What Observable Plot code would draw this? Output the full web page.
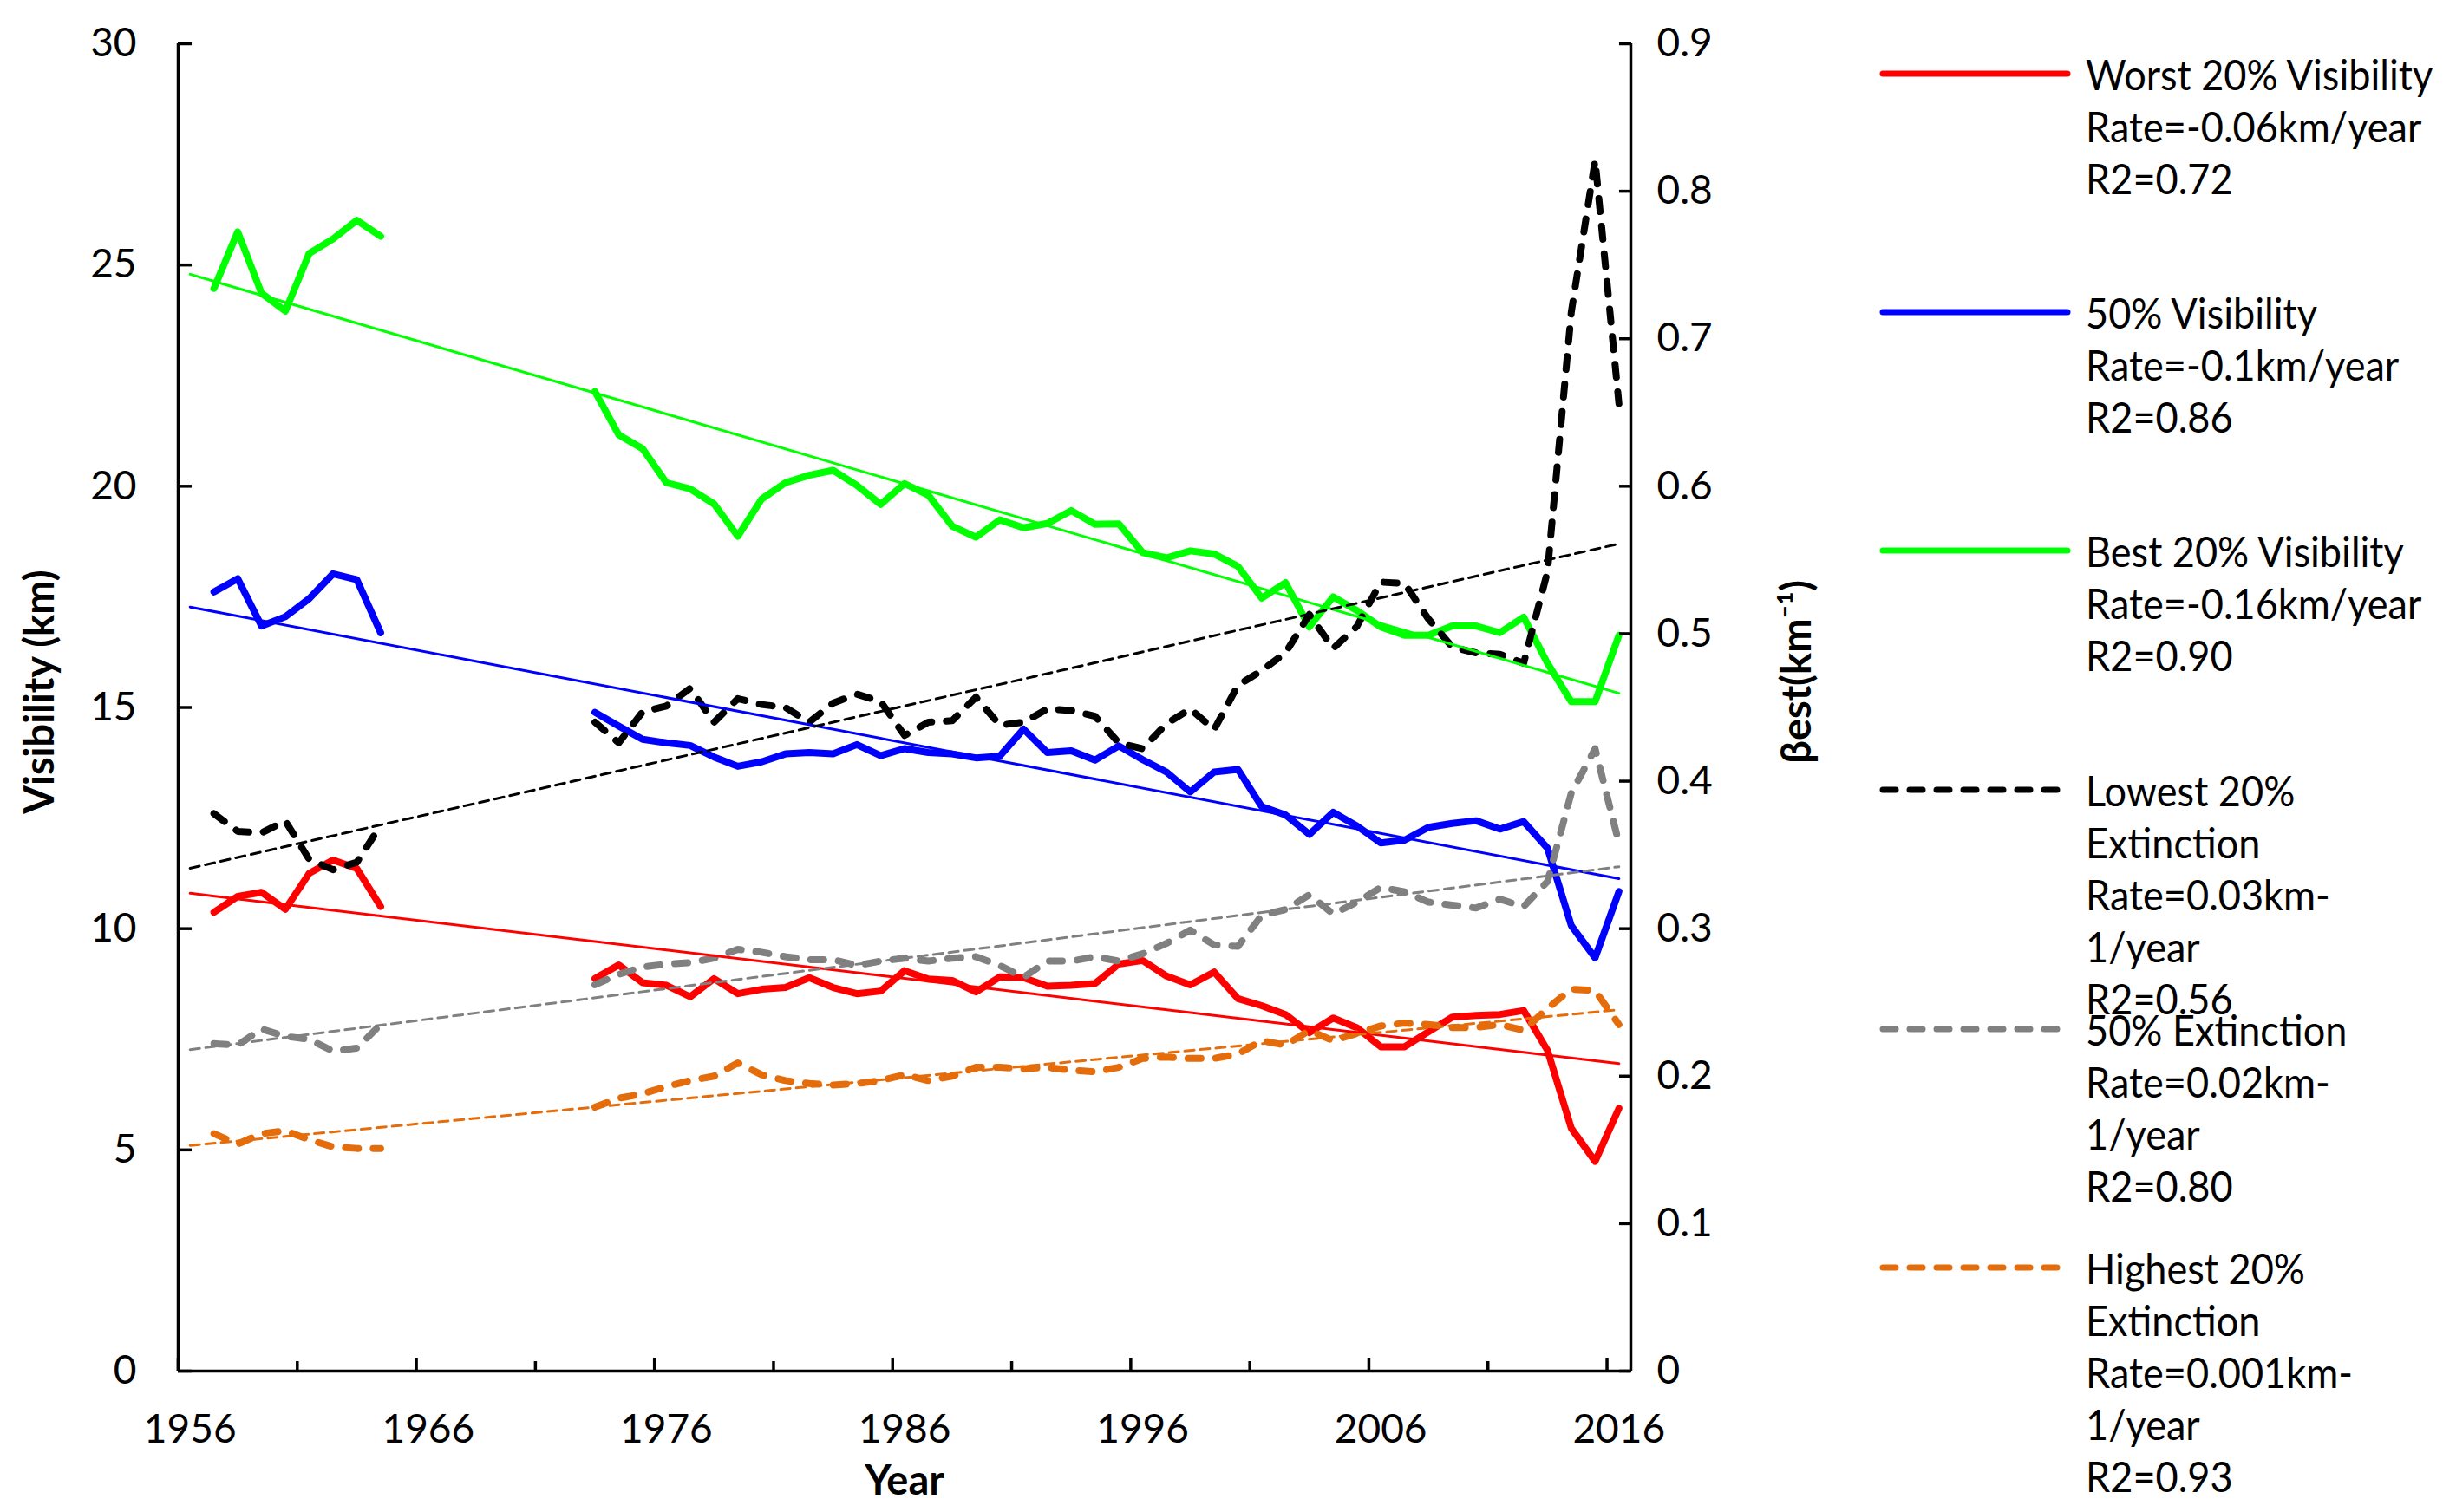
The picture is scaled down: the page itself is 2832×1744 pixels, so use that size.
<!DOCTYPE html>
<html>
<head>
<meta charset="utf-8">
<script src="https://cdn.jsdelivr.net/npm/d3@7"></script>
<script src="https://cdn.jsdelivr.net/npm/@observablehq/plot@0.6"></script>
<style>
  html, body { margin: 0; padding: 0; background: #fff; }
  #wrap { position: relative; width: 2832px; height: 1744px; font-family: Lato, "Noto Sans", sans-serif; overflow: hidden; }
  #chart { position: absolute; left: 0; top: 0; }
  .entry { position: absolute; }
  .entry svg { position: absolute; left: 0; }
  .entry .txt { position: absolute; left: 238px; font-size: 49px; line-height: 60px; color: #000; white-space: nowrap;
    transform: scaleX(0.92); transform-origin: 0 0; }
</style>
</head>
<body>
<div id="wrap"><div id="chart"></div></div>
<script>
// ---------- data ----------
const years = [1957,1958,1959,1960,1961,1962,1963,1964,
  1973,1974,1975,1976,1977,1978,1979,1980,1981,1982,1983,1984,1985,1986,1987,1988,1989,1990,1991,1992,1993,1994,
  1995,1996,1997,1998,1999,2000,2001,2002,2003,2004,2005,2006,2007,2008,2009,2010,2011,2012,2013,2014,2015,2016];

// visibility (km), left axis
const worst20Vis = [10.37,10.73,10.82,10.44,11.25,11.55,11.36,10.50,
  8.87,9.18,8.78,8.72,8.46,8.87,8.53,8.63,8.67,8.89,8.67,8.53,8.59,9.05,8.86,8.83,8.57,8.91,8.89,8.70,8.72,8.76,
  9.20,9.28,8.93,8.73,9.02,8.42,8.26,8.06,7.65,7.98,7.76,7.33,7.33,7.67,8.00,8.04,8.06,8.15,7.25,5.49,4.74,5.94];
const median50Vis = [17.61,17.91,16.84,17.05,17.46,18.02,17.89,16.69,
  14.89,14.58,14.28,14.20,14.14,13.88,13.67,13.77,13.95,13.98,13.95,14.16,13.91,14.07,13.98,13.95,13.86,13.90,14.51,13.98,14.02,13.81,
  14.13,13.82,13.54,13.09,13.54,13.60,12.76,12.57,12.13,12.63,12.32,11.94,12.00,12.29,12.38,12.44,12.25,12.42,11.82,10.07,9.34,10.84];
const best20Vis = [24.47,25.75,24.36,23.96,25.26,25.59,26.01,25.65,
  22.14,21.16,20.85,20.08,19.94,19.60,18.87,19.71,20.08,20.25,20.36,20.02,19.59,20.06,19.80,19.10,18.85,19.24,19.06,19.16,19.45,19.14,
  19.15,18.50,18.38,18.54,18.47,18.19,17.47,17.82,16.82,17.50,17.19,16.82,16.63,16.63,16.84,16.84,16.69,17.04,16.00,15.13,15.13,16.63];

// extinction βest (km-1), right axis
const lowest20Ext = [0.378,0.366,0.365,0.373,0.347,0.340,0.345,0.370,
  0.440,0.426,0.447,0.451,0.463,0.440,0.456,0.452,0.450,0.440,0.453,0.459,0.454,0.431,0.440,0.441,0.457,0.438,0.440,0.449,0.448,0.444,
  0.426,0.422,0.439,0.449,0.435,0.465,0.475,0.487,0.513,0.490,0.505,0.535,0.534,0.510,0.491,0.487,0.486,0.480,0.542,0.718,0.821,0.656];
const median50Ext = [0.222,0.221,0.232,0.227,0.225,0.217,0.219,0.235,
  0.262,0.269,0.274,0.276,0.277,0.280,0.286,0.284,0.281,0.279,0.279,0.275,0.278,0.280,0.278,0.280,0.281,0.275,0.267,0.278,0.278,0.281,
  0.278,0.283,0.290,0.299,0.289,0.288,0.309,0.313,0.323,0.310,0.318,0.328,0.325,0.318,0.316,0.314,0.320,0.315,0.332,0.392,0.422,0.358];
const highest20Ext = [0.161,0.154,0.161,0.163,0.157,0.152,0.151,0.151,
  0.179,0.185,0.188,0.193,0.197,0.200,0.209,0.201,0.197,0.195,0.194,0.195,0.197,0.201,0.197,0.200,0.206,0.206,0.205,0.206,0.204,0.203,
  0.206,0.212,0.213,0.212,0.212,0.215,0.224,0.221,0.231,0.224,0.229,0.234,0.236,0.235,0.233,0.233,0.235,0.231,0.246,0.259,0.258,0.235];

// linear trend lines: value at first and last year
const trendYears = [1956, 2016];
const worst20VisTrend = [10.80, 6.95];
const median50VisTrend = [17.27, 11.13];
const best20VisTrend = [24.79, 15.32];
const lowest20ExtTrend = [0.341, 0.561];
const median50ExtTrend = [0.218, 0.342];
const highest20ExtTrend = [0.153, 0.245];

// axis ticks
const visTicks = [0, 5, 10, 15, 20, 25, 30];
const extTicks = [0, 0.1, 0.2, 0.3, 0.4, 0.5, 0.6, 0.7, 0.8, 0.9];
const yearLabels = [1956, 1966, 1976, 1986, 1996, 2006, 2016];
const yearMinor = [1961, 1971, 1981, 1991, 2001, 2011];

// legend
const legendLines = [
  ["Worst 20% Visibility", "Rate=-0.06km/year", "R2=0.72"],
  ["50% Visibility", "Rate=-0.1km/year", "R2=0.86"],
  ["Best 20% Visibility", "Rate=-0.16km/year", "R2=0.90"],
  ["Lowest 20%", "Extinction", "Rate=0.03km-", "1/year", "R2=0.56"],
  ["50% Extinction", "Rate=0.02km-", "1/year", "R2=0.80"],
  ["Highest 20%", "Extinction", "Rate=0.001km-", "1/year", "R2=0.93"]
];

// ---------- build ----------
const K = 100 / 3; // right axis (0-0.9) mapped onto left axis (0-30)
const rows = years.map((year, i) => ({
  year, seg: year < 1970 ? 0 : 1,
  worst: worst20Vis[i], med: median50Vis[i], best: best20Vis[i],
  low: lowest20Ext[i] * K, medE: median50Ext[i] * K, high: highest20Ext[i] * K
}));
const trendRows = (t, k = 1) => trendYears.map((year, i) => ({year, v: t[i] * k}));

const xc = d => d.year + 0.5; // value drawn at the centre of its year
const styles = {
  red: "#FF0000", blue: "#0000FF", green: "#00FF00", black: "#000000", gray: "#808080", orange: "#E46C0A"
};
const thick = {strokeWidth: 8, strokeLinejoin: "round", strokeLinecap: "round", z: "seg"};
const dashThick = {...thick, strokeDasharray: "15,17"};
const thin = {strokeWidth: 3};
const thinDash = {strokeWidth: 3, strokeDasharray: "11,7"};

const chart = Plot.plot({
  width: 2140, height: 1744,
  marginLeft: 205, marginRight: 260, marginTop: 50, marginBottom: 163,
  x: {domain: [1956, 2017]},
  y: {domain: [0, 30]},
  style: {fontFamily: "Lato, 'Noto Sans', sans-serif", fontSize: "46px", color: "#000", background: "#fff", overflow: "visible"},
  marks: [
    // data series
    Plot.line(rows, {x: xc, y: "worst", stroke: styles.red, ...thick}),
    Plot.line(rows, {x: xc, y: "med", stroke: styles.blue, ...thick}),
    Plot.line(rows, {x: xc, y: "best", stroke: styles.green, ...thick}),
    Plot.line(rows, {x: xc, y: "low", stroke: styles.black, ...dashThick}),
    Plot.line(rows, {x: xc, y: "medE", stroke: styles.gray, ...dashThick}),
    Plot.line(rows, {x: xc, y: "high", stroke: styles.orange, ...dashThick}),
    // trend lines
    Plot.line(trendRows(worst20VisTrend), {x: xc, y: "v", stroke: styles.red, ...thin}),
    Plot.line(trendRows(median50VisTrend), {x: xc, y: "v", stroke: styles.blue, ...thin}),
    Plot.line(trendRows(best20VisTrend), {x: xc, y: "v", stroke: styles.green, ...thin}),
    Plot.line(trendRows(lowest20ExtTrend, K), {x: xc, y: "v", stroke: styles.black, ...thinDash}),
    Plot.line(trendRows(median50ExtTrend, K), {x: xc, y: "v", stroke: styles.gray, ...thinDash}),
    Plot.line(trendRows(highest20ExtTrend, K), {x: xc, y: "v", stroke: styles.orange, ...thinDash}),
    // axes lines
    Plot.ruleX([1956], {strokeWidth: 3.5}),
    Plot.ruleX([2017], {strokeWidth: 3.5}),
    Plot.ruleY([0], {strokeWidth: 3.5}),
    // left axis
    Plot.axisY(visTicks, {anchor: "left", tickSize: -16, tickPadding: 64, strokeWidth: 3.5, label: null, fontSize: 46,
      tickFormat: d => String(d)}),
    // right axis
    Plot.axisY(extTicks.map(b => b * K), {anchor: "right", tickSize: -14, tickPadding: 44, strokeWidth: 3.5, label: null, fontSize: 46,
      tickFormat: d => String(Math.round(d / K * 10) / 10)}),
    // x axis ticks and labels
    Plot.axisX(yearLabels, {tickSize: -15, strokeWidth: 3.5, tickFormat: () => "", label: null}),
    Plot.axisX(yearMinor, {tickSize: -11, strokeWidth: 3.5, tickFormat: () => "", label: null}),
    Plot.axisX(yearLabels.map(y => y + 0.5), {tickSize: 0, tickPadding: 50, label: null, fontSize: 46, tickFormat: d => String(d - 0.5)}),
    // titles
    Plot.text(["Visibility (km)"], {frameAnchor: "left", textAnchor: "middle", rotate: -90, dx: -159, dy: -18, fontWeight: "bold", fontSize: 47}),
    Plot.text(["βest(km⁻¹)"], {frameAnchor: "right", textAnchor: "middle", rotate: -90, dx: 192, dy: -41, fontWeight: "bold", fontSize: 47}),
    Plot.text(["Year"], {frameAnchor: "bottom", dy: 142, fontWeight: "bold", fontSize: 47})
  ]
});
document.getElementById("chart").appendChild(chart);

// legend (right side)
const legendColors = [styles.red, styles.blue, styles.green, styles.black, styles.gray, styles.orange];
const legendDashed = [false, false, false, true, true, true];
const legendTop = [85, 360, 635, 911, 1187, 1462];
const wrap = document.getElementById("wrap");
legendLines.forEach((lines, i) => {
  const e = document.createElement("div");
  e.className = "entry";
  e.style.left = "2167px";
  e.style.top = (legendTop[i] - 30) + "px";
  e.innerHTML =
    `<svg width="222" height="60" style="top:0"><line x1="4" x2="217" y1="30" y2="30" stroke="${legendColors[i]}" stroke-width="7" stroke-linecap="round" ${legendDashed[i] ? 'stroke-dasharray="15,16"' : ""}/></svg>` +
    `<div class="txt" style="top:0">${lines.join("<br>")}</div>`;
  wrap.appendChild(e);
});
</script>
</body>
</html>
